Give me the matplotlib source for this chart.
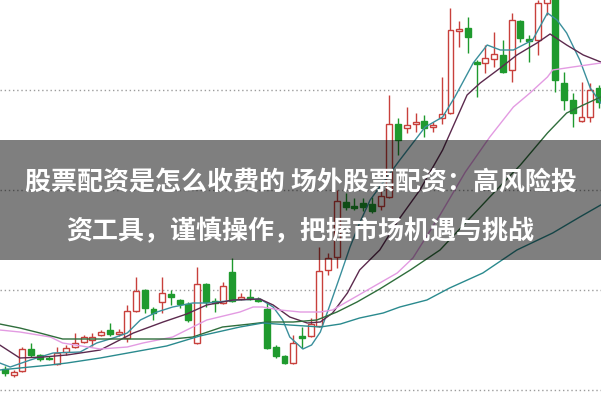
import numpy as np
import matplotlib.pyplot as plt
from matplotlib.patches import Rectangle

plt.rcParams['font.family'] = ['Noto Sans CJK SC', 'DejaVu Sans']

# K线数据（纵轴向下增大，与截图一致）
opens = [369, 375, 371, 349, 355, 358, 364, 352, 347, 342, 340, 335, 330, 334, 338, 311, 290, 309, 302, 294,
         300, 304, 343, 284, 301, 303, 272, 299, 297, 299, 309, 347, 356, 363, 336, 336, 326, 270, 257, 202,
         206, 203, 204, 206, 197, 124, 128, 124, 121, 127, 118, 113, 31, 28, 62, 63, 59, 55, 70, 21,
         39, 40, 3, -5, 83, 100, 121, 117, 88]
closes = [373, 372, 349, 355, 359, 359, 353, 348, 343, 337, 337, 332, 334, 332, 311, 291, 308, 313, 293, 297,
          304, 320, 284, 302, 303, 286, 301, 297, 299, 301, 348, 356, 363, 343, 338, 324, 271, 258, 201, 207,
          208, 207, 211, 196, 124, 140, 125, 122, 128, 125, 114, 30, 29, 37, 64, 58, 54, 72, 20, 38,
          41, 3, -8, 80, 100, 113, 117, 90, 102]
highs = [366, 370, 347, 343, 354, 356, 347, 345, 333, 335, 333, 330, 323, 329, 305, 277, 289, 307, 277, 290,
         299, 302, 267, 283, 298, 282, 258, 293, 289, 297, 303, 345, 355, 335, 327, 318, 247, 253, 190, 193,
         198, 198, 197, 190, 95, 118, 107, 113, 115, 122, 77, 8, 21, 17, 60, 45, 32, 40, 13, 20,
         35, 0, -12, -10, 72, 93, 82, 83, 85]
lows = [376, 377, 372, 357, 361, 360, 365, 355, 348, 343, 346, 336, 336, 336, 342, 312, 313, 320, 313, 305,
        308, 322, 344, 307, 312, 304, 302, 300, 300, 302, 349, 358, 364, 364, 348, 337, 327, 275, 268, 210,
        210, 211, 213, 210, 198, 155, 133, 132, 137, 132, 124, 114, 47, 53, 97, 73, 67, 73, 82, 42,
        62, 55, 15, 92, 110, 127, 122, 122, 108]

# 均线（按K线序号取样）
ma5_x = [-0.6, 0.6, 2.9, 5.5, 8.6, 10.5, 12.4, 14.0, 15.5, 17.4, 19.2, 21.5, 23.1, 26.6, 29.2, 30.7, 31.8,
         32.6, 34.1, 35.1, 36.1, 37.2, 38.4, 39.5, 40.6, 41.8, 42.9, 44.1, 45.2, 48.1, 50.1, 51.5, 53.6,
         55.2, 56.7, 58.2, 60.4, 62.1, 63.2, 64.3, 65.8, 67.0, 68.2]
ma5_y = [363, 367, 360, 353, 352, 343, 338, 333, 320, 312, 307, 303, 303, 300, 299, 307, 320,
         337, 349, 345, 332, 305, 275, 247, 223, 200, 187, 173, 160, 127, 117, 97, 63,
         45, 50, 50, 40, 13, 20, 33, 60, 88, 103]
ma10_x = [-0.6, 1.7, 4.4, 7.1, 10.9, 14.7, 18.1, 20.8, 23.1, 26.1, 29.2, 30.7, 32.6, 34.6, 36.1, 37.5,
          39.2, 40.6, 42.9, 45.2, 47.5, 50.1, 52.9, 54.4, 56.7, 58.6, 60.9, 62.4, 64.3, 66.2, 68.2]
ma10_y = [345, 358, 357, 355, 350, 333, 322, 314, 305, 300, 299, 305, 317, 323, 322, 313,
          293, 270, 250, 218, 190, 150, 95, 83, 68, 55, 43, 34, 45, 55, 62]
ma20_x = [-0.6, 1.7, 5.2, 6.6, 10.9, 14.0, 15.8, 19.2, 23.1, 26.9, 28.4, 29.5, 31.5, 33.8, 36.1, 37.5,
          39.5, 42.1, 44.9, 46.7, 49.8, 52.7, 55.5, 58.2, 60.1, 62.1, 62.7, 65.0, 68.2]
ma20_y = [330, 332, 337, 343, 349, 347, 343, 337, 320, 312, 307, 307, 310, 312, 312, 310,
          300, 287, 273, 258, 215, 172, 137, 107, 93, 77, 70, 67, 63]
ma30_x = [-0.6, 1.7, 4.0, 6.6, 10.9, 16.6, 19.2, 21.5, 24.9, 28.1, 30.0, 33.0, 35.7, 38.0, 40.3, 42.9,
          46.4, 49.8, 55.5, 59.0, 62.1, 64.3, 66.2, 68.2]
ma30_y = [324, 328, 333, 339, 339, 339, 339, 337, 327, 324, 322, 322, 320, 312, 302, 289,
          270, 250, 197, 165, 133, 113, 105, 97]
ma60_x = [-0.6, 1.7, 5.2, 7.1, 10.9, 14.7, 18.5, 22.3, 26.9, 29.5, 32.6, 36.1, 38.4, 40.6, 43.3, 45.2,
          48.3, 50.9, 54.7, 58.6, 62.7, 65.8, 68.2]
ma60_y = [370, 368, 365, 363, 358, 352, 346, 336, 327, 323, 325, 327, 324, 318, 313, 307,
          300, 288, 273, 250, 233, 217, 205]

grid_levels = [90, 190, 290, 390]
title_lines = ['股票配资是怎么收费的 场外股票配资：高风险投', '资工具，谨慎操作，把握市场机遇与挑战']

red = '#c8403c'
green = '#1f9a2e'

fig = plt.figure(figsize=(6.01, 4.01), dpi=100)
ax = fig.add_axes([0, 0, 1, 1])

for lv in grid_levels:
    ax.axhline(lv, color='#9c9c9c', lw=1, ls=(0, (1, 2)), zorder=1)

o = np.array(opens)
c = np.array(closes)
idx = np.arange(len(o))
up = c < o
cols = np.where(up, red, green)

ax.vlines(idx, highs, lows, colors=cols, lw=1, zorder=2)
body = np.maximum(np.abs(c - o), 1)
ax.bar(idx, body, bottom=np.minimum(o, c), width=0.68,
       color=np.where(up, 'white', green), edgecolor=cols, linewidth=1, zorder=2.5)

ax.plot(ma5_x, ma5_y, color='#3a8f9c', lw=1, zorder=3)
ax.plot(ma10_x, ma10_y, color='#5c2a4e', lw=1, zorder=3)
ax.plot(ma20_x, ma20_y, color='#e39be2', lw=1, zorder=3)
ax.plot(ma30_x, ma30_y, color='#2f6e3c', lw=1, zorder=3)
ax.plot(ma60_x, ma60_y, color='#2a8a8e', lw=1, zorder=3)

ax.set_xlim(-0.57, 68.23)
ax.set_ylim(401, 0)
ax.axis('off')

# 标题遮罩
ax.add_patch(Rectangle((0, 1 - 260 / 401), 1, 120 / 401, transform=ax.transAxes,
                       facecolor='black', alpha=0.5, zorder=10))
fig.text(0.5, 1 - 182 / 401, title_lines[0], ha='center', va='center', color='white',
         fontsize=18.7, fontweight='bold', zorder=11)
fig.text(0.5, 1 - 232 / 401, title_lines[1], ha='center', va='center', color='white',
         fontsize=18.7, fontweight='bold', zorder=11)

fig.savefig('out.png', dpi=100)
